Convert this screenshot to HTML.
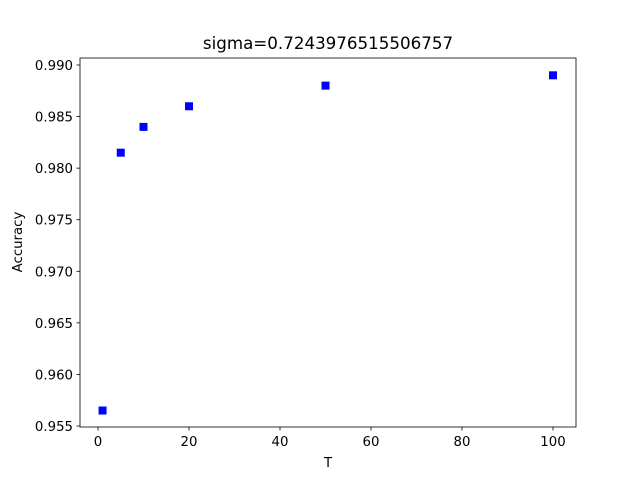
<!DOCTYPE html>
<html><head><meta charset="utf-8"><style>
body{margin:0;background:#fff;}
svg{display:block;font-family:"DejaVu Sans","Liberation Sans",sans-serif;}
</style></head><body>
<svg id="c" width="640" height="480"></svg>
<script>
const xValues=[1,5,10,20,50,100];
const yValues=[0.9565,0.9815,0.984,0.986,0.988,0.989];
const xTicks=[0,20,40,60,80,100];
const yTicks=[0.955,0.960,0.965,0.970,0.975,0.980,0.985,0.990];
const L=80,R=576,T=58,B=427;
function sx(v){return 98+(v-0)*(553-98)/100;}
function sy(v){return 426+(v-0.955)*(65-426)/0.035;}
const ns="http://www.w3.org/2000/svg",svg=document.getElementById('c');
function mk(t,a,p){const e=document.createElementNS(ns,t);for(const k in a)e.setAttribute(k,a[k]);(p||svg).appendChild(e);return e;}
const t=mk('text',{x:328,y:49,'text-anchor':'middle','font-size':16.7,fill:'#000'});t.textContent='sigma=0.7243976515506757';


xTicks.forEach(v=>{const x=sx(v);
const l=mk('line',{x1:x,x2:x,y1:B,y2:B+3.5,stroke:'#000','stroke-width':0.8});


const tx=mk('text',{x:x,y:B+19,'text-anchor':'middle','font-size':13.3,fill:'#000'});tx.textContent=v;

});
yTicks.forEach(v=>{const y=sy(v);
const l=mk('line',{x1:L-3.5,x2:L,y1:y,y2:y,stroke:'#000','stroke-width':0.8});


const tx=mk('text',{x:L-7,y:y+5,'text-anchor':'end','font-size':13.3,fill:'#000'});tx.textContent=v.toFixed(3);

});
xValues.forEach((v,i)=>{const r=mk('rect',{x:sx(v)-4,y:sy(yValues[i])-4,width:8,height:8,fill:'#0000ff'});

});
const f=mk('rect',{x:L,y:T,width:R-L,height:B-T,fill:'none',stroke:'#000','stroke-width':0.8});


const xl=mk('text',{x:328,y:467,'text-anchor':'middle','font-size':13.3,fill:'#000'});xl.textContent='T';


const yl=mk('text',{x:22,y:242,'text-anchor':'middle','font-size':13.3,fill:'#000',transform:'rotate(-90 22 242)'});yl.textContent='Accuracy';


</script>
</body></html>
